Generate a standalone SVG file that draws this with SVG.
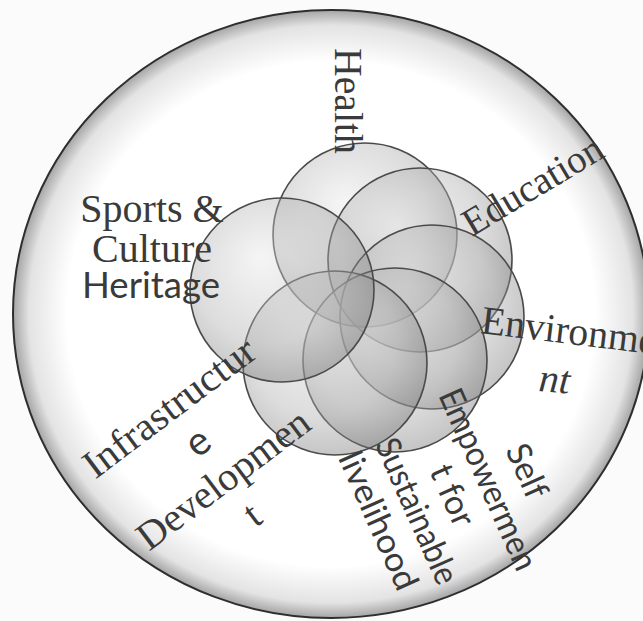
<svg xmlns="http://www.w3.org/2000/svg" width="643" height="621" viewBox="0 0 643 621">
<defs>
  <radialGradient id="bowl" cx="0.5" cy="0.5" r="0.5">
    <stop offset="0" stop-color="#ffffff"/>
    <stop offset="0.83" stop-color="#ffffff"/>
    <stop offset="0.95" stop-color="#e3e3e3"/>
    <stop offset="1" stop-color="#a5a5a5"/>
  </radialGradient>
  <radialGradient id="ball" cx="0.45" cy="0.42" r="0.62" fx="0.38" fy="0.32">
    <stop offset="0" stop-color="#e6e6e6"/>
    <stop offset="0.65" stop-color="#aaaaaa"/>
    <stop offset="1" stop-color="#666666"/>
  </radialGradient>
</defs>
<style>
  .ball{fill:url(#ball);fill-opacity:0.4;stroke:#4a4a4a;stroke-width:1.6}
  .serif{font-family:"Liberation Serif","Times New Roman",serif;fill:#3a3a3a}
  .sans{font-family:Lato,"Liberation Sans",sans-serif;fill:#3a3a3a}
</style>
<rect width="643" height="621" fill="#fbfbfb"/>
<g id="outer">
  <ellipse cx="331" cy="314" rx="318" ry="304" fill="url(#bowl)" stroke="#2e2e2e" stroke-width="2"/>
</g>
<g id="circles">
  <g id="c-health"><circle class="ball" cx="365" cy="235" r="92"/></g>
  <g id="c-education"><circle class="ball" cx="420" cy="260" r="92"/></g>
  <g id="c-environment"><circle class="ball" cx="432" cy="317" r="92"/></g>
  <g id="c-self"><circle class="ball" cx="395" cy="360" r="92"/></g>
  <g id="c-infra"><circle class="ball" cx="335" cy="363" r="92"/></g>
  <g id="c-sports"><circle class="ball" cx="282" cy="290" r="92"/></g>
</g>
<g id="connectors"></g>
<g id="labels">
  <g id="health">
    <text class="serif" font-size="40" transform="translate(335,48) rotate(90)" textLength="106" lengthAdjust="spacingAndGlyphs">Health</text>
  </g>
  <g id="education">
    <text class="serif" font-size="39" transform="translate(472,237) rotate(-31)" textLength="157" lengthAdjust="spacingAndGlyphs">Education</text>
  </g>
  <g id="environment">
    <text class="serif" font-size="40" transform="translate(480,333) rotate(7)" textLength="176" lengthAdjust="spacingAndGlyphs">Environme</text>
    <text class="serif" font-size="40" font-style="italic" transform="translate(538,391) rotate(5)">nt</text>
  </g>
  <g id="sports" class="serif" font-size="40" text-anchor="middle">
    <text x="152" y="222">Sports &amp;</text>
    <text x="152" y="262">Culture</text>
    <text class="sans" x="151" y="298" font-size="37" textLength="138" lengthAdjust="spacingAndGlyphs">Heritage</text>
  </g>
  <g id="infrastructure" font-size="40" text-anchor="middle" transform="translate(177,418) rotate(-37)">
    <text class="serif" x="0" y="0" textLength="205" lengthAdjust="spacingAndGlyphs">Infrastructur</text>
    <text class="sans" x="2" y="45">e</text>
    <text class="serif" x="0" y="90" textLength="206" lengthAdjust="spacingAndGlyphs">Developmen</text>
    <text class="serif" x="2" y="135">t</text>
  </g>
  <g id="self-empowerment" class="sans" font-size="34" text-anchor="middle" transform="translate(442,500) rotate(66)">
    <text x="8" y="-78">Self</text>
    <text x="0" y="-39" textLength="195" lengthAdjust="spacingAndGlyphs">Empowermen</text>
    <text x="0" y="0">t for</text>
    <text x="0" y="39" textLength="156" lengthAdjust="spacingAndGlyphs">Sustainable</text>
    <text x="-7" y="78" textLength="148" lengthAdjust="spacingAndGlyphs">livelihood</text>
  </g>
</g>
</svg>
